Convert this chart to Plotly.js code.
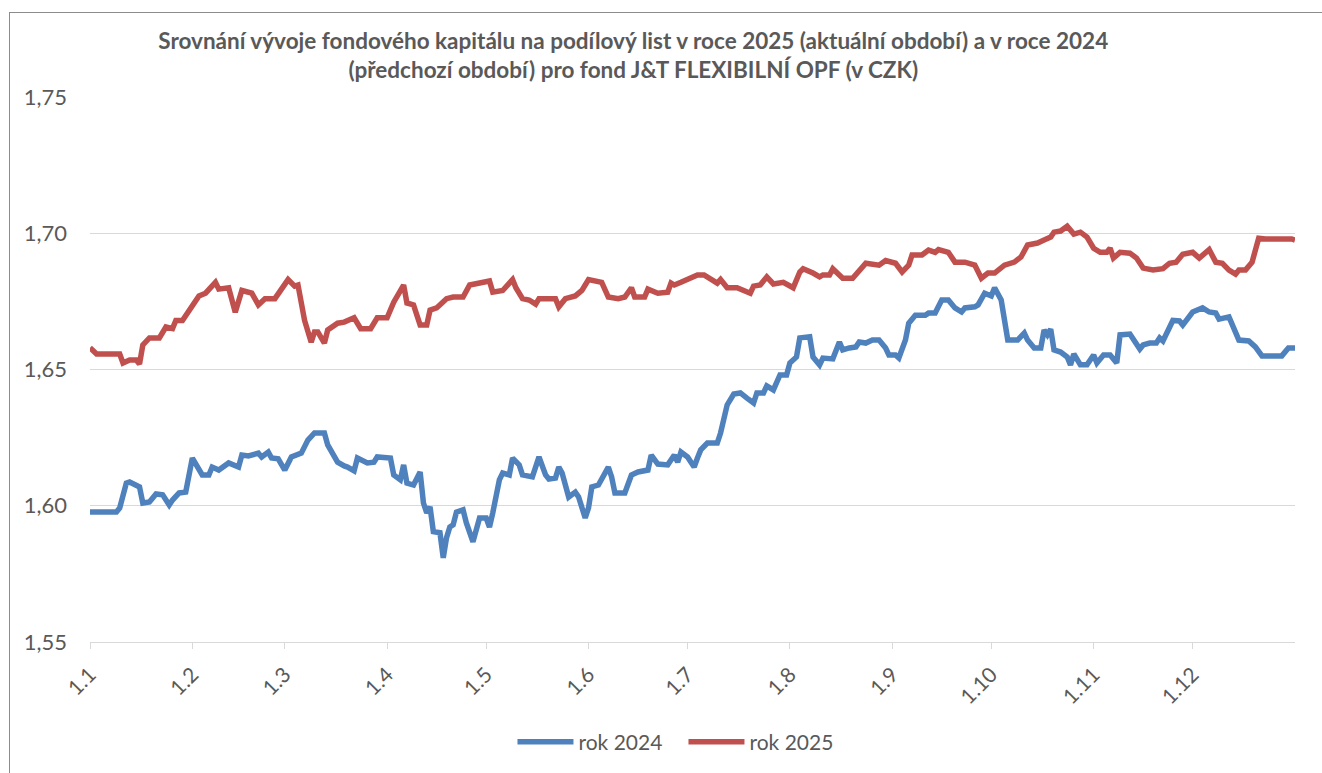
<!DOCTYPE html>
<html>
<head>
<meta charset="utf-8">
<script src="https://cdn.plot.ly/plotly-3.0.1.min.js"></script>
<style>
  html, body { margin:0; padding:0; background:#fff; overflow:hidden; }
  #wrap { position:relative; width:1322px; height:773px; }
  #frame { position:absolute; left:9px; top:12px; width:1400px; height:900px; border:1px solid #8c8c8c; box-sizing:border-box; pointer-events:none; z-index:5; }
  #chart { position:absolute; left:0; top:0; width:1322px; height:773px; }
</style>
</head>
<body>
<div id="wrap"><div id="chart"></div><div id="frame"></div></div>
<script>
// Day of year (0 = 1.1) and fund capital per unit
const monthStartDays = [0, 31, 59, 90, 120, 151, 181, 212, 243, 273, 304, 334];
const monthLabels = ["1.1","1.2","1.3","1.4","1.5","1.6","1.7","1.8","1.9","1.10","1.11","1.12"];

const days2025 = [0,2,9,10,12,14,15,16,18,21,23,25,26,28,33,35,38,39,42,44,46,49,51,53,56,60,62,63,65,67,68,69,71,72,75,77,80,82,85,87,90,92,95,96,98,100,102,103,105,108,110,113,115,118,119,121,122,125,128,129,131,133,135,136,141,142,144,147,149,151,155,157,160,162,164,165,168,169,172,175,176,177,179,181,184,186,188,190,191,193,196,198,200,201,203,205,207,210,213,215,216,219,221,222,224,225,228,231,233,235,239,241,244,246,248,249,252,254,256,257,260,262,265,268,270,272,274,277,280,282,284,287,289,291,292,294,296,298,300,302,304,306,308,309,310,312,315,317,319,322,325,327,329,331,334,336,339,341,343,345,347,348,350,352,354,356,364,365];
const rok2025 = [1.658,1.6557,1.6557,1.6524,1.6535,1.6535,1.652,1.659,1.6616,1.6616,1.6656,1.665,1.668,1.668,1.677,1.678,1.682,1.6795,1.680,1.671,1.679,1.678,1.6737,1.676,1.676,1.683,1.6806,1.681,1.668,1.660,1.6638,1.6638,1.6597,1.6645,1.667,1.6674,1.669,1.665,1.665,1.669,1.669,1.6747,1.681,1.6744,1.6737,1.6663,1.6663,1.6718,1.6726,1.676,1.6766,1.6766,1.681,1.6817,1.6817,1.6825,1.6784,1.679,1.683,1.680,1.676,1.6755,1.674,1.676,1.676,1.673,1.676,1.677,1.679,1.683,1.682,1.6766,1.676,1.6766,1.680,1.6766,1.6766,1.6795,1.678,1.6784,1.6817,1.681,1.682,1.683,1.6847,1.6847,1.6832,1.6817,1.683,1.680,1.680,1.679,1.678,1.6806,1.681,1.684,1.6814,1.682,1.680,1.6858,1.687,1.6854,1.684,1.6847,1.6847,1.687,1.6835,1.6835,1.6865,1.689,1.6883,1.690,1.689,1.6858,1.6883,1.692,1.692,1.6938,1.693,1.694,1.693,1.6894,1.6894,1.6883,1.6835,1.6854,1.6854,1.6883,1.6894,1.6913,1.6957,1.6964,1.6975,1.6986,1.7004,1.7008,1.7026,1.6997,1.7004,1.6986,1.6945,1.693,1.693,1.6945,1.6909,1.693,1.6927,1.6909,1.6872,1.6865,1.687,1.689,1.6894,1.6923,1.693,1.6909,1.694,1.6894,1.689,1.6865,1.685,1.6865,1.6865,1.6894,1.6982,1.6979,1.6979,1.6975];

const days2024 = [0,8,9,11,12,15,16,18,20,22,24,25,27,29,31,34,36,37,39,42,45,46,48,51,52,54,55,57,59,61,64,66,68,71,72,75,77,78,80,81,84,86,87,90,91,92,94,95,96,98,100,101,102,103,104,106,107,108,109,110,111,113,114,116,117,118,120,121,122,124,125,127,128,130,131,134,136,138,139,141,142,143,145,147,148,150,151,152,154,157,158,159,162,164,166,169,170,172,175,177,178,179,181,183,184,185,187,190,191,193,195,197,199,201,202,204,205,207,209,211,212,214,215,218,219,221,222,225,227,228,230,232,233,235,237,239,241,242,244,245,247,248,250,253,254,256,258,260,262,264,265,268,269,271,273,274,276,277,278,281,283,284,286,288,289,290,291,292,294,296,297,298,300,302,304,305,307,309,311,312,315,318,319,321,323,324,325,328,330,331,333,334,337,339,341,342,345,346,348,351,353,355,361,363,365];
const rok2024 = [1.5977,1.5977,1.5992,1.6083,1.6087,1.6069,1.601,1.6014,1.6043,1.604,1.6003,1.6021,1.6047,1.605,1.6175,1.6113,1.6113,1.6142,1.6131,1.6157,1.6142,1.6186,1.6183,1.6193,1.6179,1.6197,1.6175,1.6172,1.6131,1.6179,1.6193,1.6241,1.6267,1.6267,1.6223,1.616,1.6146,1.6142,1.6128,1.6175,1.6157,1.616,1.6179,1.6175,1.6175,1.6113,1.6095,1.615,1.6083,1.6076,1.6124,1.601,1.5974,1.5996,1.5905,1.5901,1.5809,1.5883,1.5922,1.593,1.5977,1.5985,1.5937,1.5868,1.5912,1.5955,1.5955,1.5922,1.5974,1.6095,1.612,1.6113,1.6175,1.615,1.6113,1.6106,1.6179,1.6113,1.6098,1.6102,1.6142,1.612,1.6032,1.605,1.6032,1.5955,1.5992,1.6069,1.6076,1.6142,1.6106,1.6047,1.6047,1.6113,1.6124,1.6131,1.6186,1.6153,1.615,1.6186,1.616,1.6197,1.6179,1.6142,1.6175,1.6205,1.623,1.623,1.6267,1.637,1.641,1.6414,1.6395,1.6377,1.6414,1.6414,1.644,1.6425,1.648,1.648,1.6524,1.6546,1.6616,1.662,1.6546,1.6517,1.6542,1.6539,1.6601,1.6572,1.6579,1.6583,1.6601,1.6597,1.6608,1.6608,1.6579,1.6553,1.6553,1.6542,1.6608,1.667,1.6699,1.6699,1.6707,1.6707,1.6755,1.6755,1.6726,1.6711,1.6726,1.673,1.6737,1.678,1.677,1.680,1.6755,1.6663,1.6608,1.6608,1.6634,1.6608,1.6579,1.6579,1.6645,1.6627,1.6648,1.6572,1.6564,1.6546,1.6517,1.6557,1.6517,1.6517,1.6553,1.6524,1.6553,1.6553,1.6524,1.6627,1.663,1.6575,1.659,1.6597,1.6597,1.6616,1.6605,1.668,1.6678,1.6663,1.6696,1.6711,1.6726,1.6711,1.6707,1.6685,1.6693,1.6663,1.6608,1.6605,1.6583,1.655,1.655,1.6579,1.6579];

const seriesNames = ["rok 2024", "rok 2025"];
const titleLine1 = "Srovnání vývoje fondového kapitálu na podílový list v roce 2025 (aktuální období) a v roce 2024";
const titleLine2 = "(předchozí období) pro fond J&T FLEXIBILNÍ OPF (v CZK)";

const FONT = "Lato, 'Open Sans', sans-serif";
const GREY = "#595959";

const traces = [
  { x: days2024, y: rok2024, name: seriesNames[0], type: "scatter", mode: "lines",
    line: { color: "#4f81bd", width: 5.5, shape: "linear" } },
  { x: days2025, y: rok2025, name: seriesNames[1], type: "scatter", mode: "lines",
    line: { color: "#c0504d", width: 5.5, shape: "linear" } }
];

const layout = {
  width: 1322, height: 773,
  paper_bgcolor: "#ffffff", plot_bgcolor: "#ffffff",
  separators: ",.",
  margin: { l: 90, r: 27, t: 97, b: 131 },
  font: { family: FONT, color: GREY, size: 21 },
  title: { text: titleLine1 + "<br>" + titleLine2,
           font: { family: FONT, size: 22.5, color: GREY, weight: "bold" },
           x: 0.479, xref: "container", xanchor: "center",
           y: 1 - 49 / 773, yref: "container", yanchor: "middle" },
  xaxis: {
    range: [0, 365],
    tickmode: "array", tickvals: monthStartDays, ticktext: monthLabels,
    tickangle: -45, ticks: "outside", ticklen: 6, tickcolor: "#d9d9d9", tickwidth: 1,
    ticklabelstandoff: 5,
    showline: true, linecolor: "#d9d9d9", linewidth: 1,
    showgrid: false, zeroline: false,
    tickfont: { family: FONT, size: 21, color: GREY }
  },
  yaxis: {
    range: [1.55, 1.75], dtick: 0.05, tick0: 1.55, tickformat: ".2f",
    showgrid: true, gridcolor: "#d9d9d9", gridwidth: 1,
    zeroline: false, showline: false, ticks: "", ticklen: 0,
    ticklabelstandoff: 22,
    tickfont: { family: FONT, size: 22, color: GREY }
  },
  showlegend: true,
  legend: { orientation: "h", x: 0.517, xanchor: "center", xref: "container",
            y: 1 - 742 / 773, yref: "container", yanchor: "middle",
            font: { family: FONT, size: 21, color: GREY }, itemwidth: 56,
            entrywidth: 100, entrywidthmode: "pixels",
            traceorder: "normal" }
};

Plotly.newPlot("chart", traces, layout, { displayModeBar: false, staticPlot: true });
</script>
</body>
</html>
